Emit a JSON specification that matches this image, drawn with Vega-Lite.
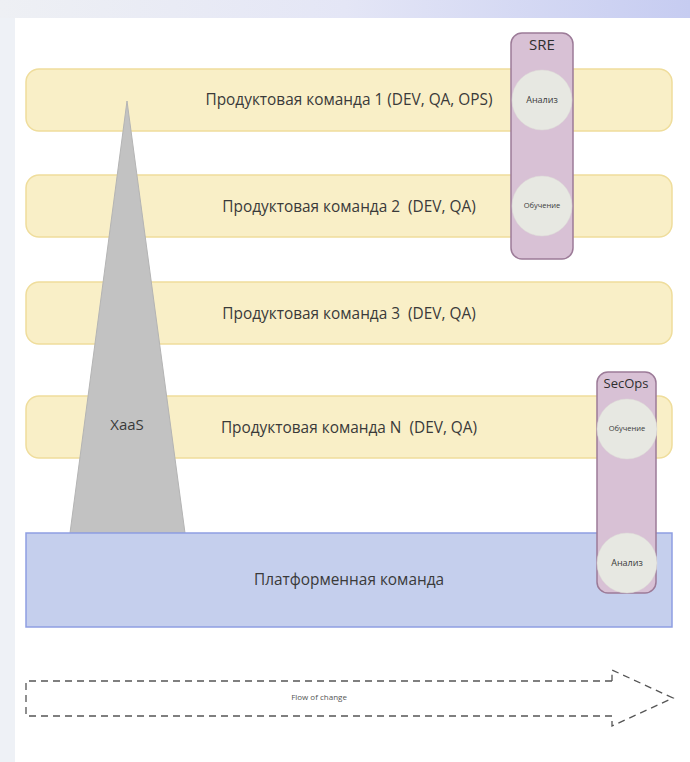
{
  "$schema": "https://vega.github.io/schema/vega-lite/v6.json",
  "width": 690,
  "height": 762,
  "autosize": {"type": "fit", "contains": "padding"},
  "padding": 0,
  "background": "#ffffff",
  "config": {"view": {"stroke": null}},
  "datasets": {
    "topband": [{"x0": 0, "x1": 690, "y0": 0, "y1": 18}],
    "leftband": [{"x0": 0, "x1": 15, "y0": 18, "y1": 762}],
    "bands": [
      {"team": "Продуктовая команда 1 (DEV, QA, OPS)", "x0": 26, "x1": 672, "y0": 69, "y1": 131, "cx": 349, "cy": 100},
      {"team": "Продуктовая команда 2 \u00a0(DEV, QA)", "x0": 26, "x1": 672, "y0": 175, "y1": 237, "cx": 349, "cy": 207},
      {"team": "Продуктовая команда 3 \u00a0(DEV, QA)", "x0": 26, "x1": 672, "y0": 282, "y1": 344, "cx": 349, "cy": 314},
      {"team": "Продуктовая команда N \u00a0(DEV, QA)", "x0": 26, "x1": 672, "y0": 396, "y1": 458, "cx": 349, "cy": 428}
    ],
    "xaas": [
      {"x": 70, "yt": 533, "yb": 533},
      {"x": 127, "yt": 101, "yb": 533},
      {"x": 185, "yt": 533, "yb": 533}
    ],
    "xaasLabel": [{"label": "XaaS", "cx": 127, "cy": 425}],
    "platform": [{"team": "Платформенная команда", "x0": 26, "x1": 672, "y0": 533, "y1": 627, "cx": 349, "cy": 580}],
    "pills": [
      {"name": "SRE", "x0": 511, "x1": 573, "y0": 33, "y1": 259, "cx": 542, "cy": 45},
      {"name": "SecOps", "x0": 597, "x1": 656, "y0": 372, "y1": 593, "cx": 626, "cy": 384}
    ],
    "circles": [
      {"label": "Анализ", "cx": 542, "cy": 100, "kind": "a"},
      {"label": "Обучение", "cx": 542, "cy": 206, "kind": "o"},
      {"label": "Обучение", "cx": 627, "cy": 429, "kind": "o"},
      {"label": "Анализ", "cx": 627, "cy": 563, "kind": "a"}
    ],
    "arrow": [
      {"o": 1, "x": 612, "y": 681},
      {"o": 2, "x": 26, "y": 681},
      {"o": 3, "x": 26, "y": 716},
      {"o": 4, "x": 612, "y": 716},
      {"o": 5, "x": 612, "y": 726},
      {"o": 6, "x": 673, "y": 698},
      {"o": 7, "x": 612, "y": 670},
      {"o": 8, "x": 612, "y": 681}
    ],
    "arrowLabel": [{"label": "Flow of change", "cx": 319, "cy": 698}]
  },
  "layer": [
    {
      "data": {"name": "topband"},
      "mark": {"type": "rect", "color": {"gradient": "linear", "x1": 0, "y1": 0, "x2": 1, "y2": 0, "stops": [{"offset": 0, "color": "#eef0f4"}, {"offset": 0.5, "color": "#e4e6f6"}, {"offset": 1, "color": "#c6ccf1"}]}},
      "encoding": {
        "x": {"field": "x0", "type": "quantitative", "scale": {"domain": [0, 690], "nice": false, "zero": false}, "axis": null},
        "x2": {"field": "x1"},
        "y": {"field": "y0", "type": "quantitative", "scale": {"domain": [0, 762], "reverse": true, "nice": false, "zero": false}, "axis": null},
        "y2": {"field": "y1"}
      }
    },
    {
      "data": {"name": "leftband"},
      "mark": {"type": "rect", "color": "#eef1f6"},
      "encoding": {
        "x": {"field": "x0", "type": "quantitative", "axis": null},
        "x2": {"field": "x1"},
        "y": {"field": "y0", "type": "quantitative", "axis": null},
        "y2": {"field": "y1"}
      }
    },
    {
      "data": {"name": "bands"},
      "mark": {"type": "rect", "fill": "#f9efc7", "stroke": "#efdd9c", "strokeWidth": 1.5, "cornerRadius": 13},
      "encoding": {
        "x": {"field": "x0", "type": "quantitative", "axis": null},
        "x2": {"field": "x1"},
        "y": {"field": "y0", "type": "quantitative", "axis": null},
        "y2": {"field": "y1"}
      }
    },
    {
      "data": {"name": "bands"},
      "mark": {"type": "text", "font": "Open Sans", "fontSize": 15.4, "color": "#3a3a3a", "align": "center", "baseline": "middle"},
      "encoding": {
        "x": {"field": "cx", "type": "quantitative", "axis": null},
        "y": {"field": "cy", "type": "quantitative", "axis": null},
        "text": {"field": "team"}
      }
    },
    {
      "data": {"name": "xaas"},
      "mark": {"type": "area", "orient": "vertical", "fill": "#c2c2c2", "stroke": "#b4b4b4", "strokeWidth": 1, "fillOpacity": 1},
      "encoding": {
        "x": {"field": "x", "type": "quantitative", "axis": null},
        "y": {"field": "yt", "type": "quantitative", "axis": null},
        "y2": {"field": "yb"}
      }
    },
    {
      "data": {"name": "xaasLabel"},
      "mark": {"type": "text", "font": "Open Sans", "fontSize": 15, "color": "#3a3a3a", "align": "center", "baseline": "middle"},
      "encoding": {
        "x": {"field": "cx", "type": "quantitative", "axis": null},
        "y": {"field": "cy", "type": "quantitative", "axis": null},
        "text": {"field": "label"}
      }
    },
    {
      "data": {"name": "platform"},
      "mark": {"type": "rect", "fill": "#c5cfed", "stroke": "#8e9fe2", "strokeWidth": 1.5},
      "encoding": {
        "x": {"field": "x0", "type": "quantitative", "axis": null},
        "x2": {"field": "x1"},
        "y": {"field": "y0", "type": "quantitative", "axis": null},
        "y2": {"field": "y1"}
      }
    },
    {
      "data": {"name": "platform"},
      "mark": {"type": "text", "font": "Open Sans", "fontSize": 15.4, "color": "#3a3a3a", "align": "center", "baseline": "middle"},
      "encoding": {
        "x": {"field": "cx", "type": "quantitative", "axis": null},
        "y": {"field": "cy", "type": "quantitative", "axis": null},
        "text": {"field": "team"}
      }
    },
    {
      "data": {"name": "pills"},
      "mark": {"type": "rect", "fill": "#d8c1d5", "stroke": "#9c7b98", "strokeWidth": 1.5, "cornerRadius": 11},
      "encoding": {
        "x": {"field": "x0", "type": "quantitative", "axis": null},
        "x2": {"field": "x1"},
        "y": {"field": "y0", "type": "quantitative", "axis": null},
        "y2": {"field": "y1"}
      }
    },
    {
      "data": {"name": "pills"},
      "transform": [{"filter": "datum.name == 'SRE'"}],
      "mark": {"type": "text", "font": "Open Sans", "fontSize": 15, "color": "#2f2f2f", "align": "center", "baseline": "middle"},
      "encoding": {
        "x": {"field": "cx", "type": "quantitative", "axis": null},
        "y": {"field": "cy", "type": "quantitative", "axis": null},
        "text": {"field": "name"}
      }
    },
    {
      "data": {"name": "pills"},
      "transform": [{"filter": "datum.name == 'SecOps'"}],
      "mark": {"type": "text", "font": "Open Sans", "fontSize": 13, "color": "#2f2f2f", "align": "center", "baseline": "middle"},
      "encoding": {
        "x": {"field": "cx", "type": "quantitative", "axis": null},
        "y": {"field": "cy", "type": "quantitative", "axis": null},
        "text": {"field": "name"}
      }
    },
    {
      "data": {"name": "circles"},
      "mark": {"type": "point", "shape": "circle", "filled": true, "size": 3600, "fill": "#e7e8e2", "opacity": 1, "stroke": "#dcddd6", "strokeWidth": 0.5},
      "encoding": {
        "x": {"field": "cx", "type": "quantitative", "axis": null},
        "y": {"field": "cy", "type": "quantitative", "axis": null}
      }
    },
    {
      "data": {"name": "circles"},
      "transform": [{"filter": "datum.kind == 'a'"}],
      "mark": {"type": "text", "font": "Open Sans", "fontSize": 9, "color": "#3a3a3a", "align": "center", "baseline": "middle"},
      "encoding": {
        "x": {"field": "cx", "type": "quantitative", "axis": null},
        "y": {"field": "cy", "type": "quantitative", "axis": null},
        "text": {"field": "label"}
      }
    },
    {
      "data": {"name": "circles"},
      "transform": [{"filter": "datum.kind == 'o'"}],
      "mark": {"type": "text", "font": "Open Sans", "fontSize": 7.5, "color": "#3a3a3a", "align": "center", "baseline": "middle"},
      "encoding": {
        "x": {"field": "cx", "type": "quantitative", "axis": null},
        "y": {"field": "cy", "type": "quantitative", "axis": null},
        "text": {"field": "label"}
      }
    },
    {
      "data": {"name": "arrow"},
      "mark": {"type": "line", "stroke": "#555555", "strokeWidth": 1.3, "strokeDash": [7, 5], "interpolate": "linear"},
      "encoding": {
        "x": {"field": "x", "type": "quantitative", "axis": null},
        "y": {"field": "y", "type": "quantitative", "axis": null},
        "order": {"field": "o", "type": "quantitative"}
      }
    },
    {
      "data": {"name": "arrowLabel"},
      "mark": {"type": "text", "font": "Open Sans", "fontSize": 8, "color": "#555555", "align": "center", "baseline": "middle"},
      "encoding": {
        "x": {"field": "cx", "type": "quantitative", "axis": null},
        "y": {"field": "cy", "type": "quantitative", "axis": null},
        "text": {"field": "label"}
      }
    }
  ]
}
